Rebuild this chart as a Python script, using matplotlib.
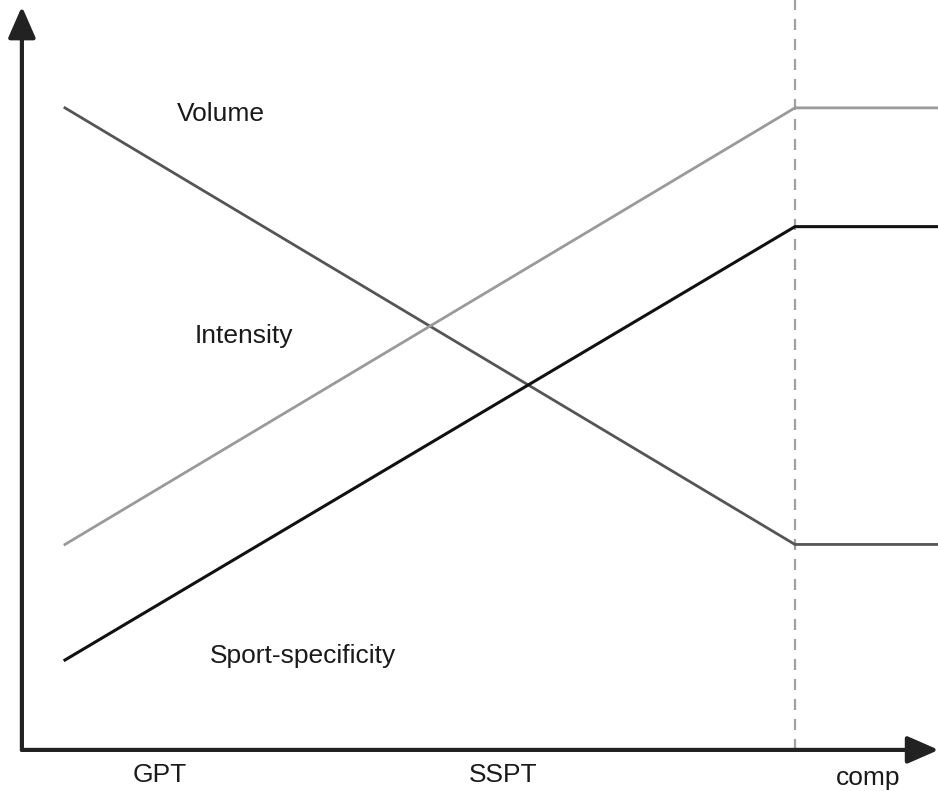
import matplotlib.pyplot as plt

# phase positions (arbitrary units): start of GPT, start of competition, end
PHASE_X = [0, 10, 12]
VOLUME = [10.0, 3.2, 3.2]
INTENSITY = [3.2, 10.0, 10.0]
SPORT_SPECIFICITY = [1.4, 8.15, 8.15]

SERIES_LABELS = ["Volume", "Intensity", "Sport-specificity"]
PHASE_LABELS = ["GPT", "SSPT", "comp"]

plt.rcParams["font.family"] = ["Liberation Sans", "DejaVu Sans"]

fig = plt.figure(figsize=(9.38, 7.91), dpi=100)
ax = fig.add_axes([0, 0, 1, 1])
ax.set_xlim(-0.89, 11.96)
ax.set_ylim(-0.64, 11.68)
ax.axis("off")

# axes with arrowheads
x0, y0 = -0.59, 0.0
axis_props = dict(arrowstyle="-|>,head_length=0.8,head_width=0.35", lw=3,
                  color="#222222", mutation_scale=24, shrinkA=0, shrinkB=0,
                  capstyle="butt")
ax.annotate("", xy=(11.97, y0), xytext=(x0 - 0.02, y0), arrowprops=axis_props,
            annotation_clip=False)
ax.annotate("", xy=(x0, 11.58), xytext=(x0, y0 - 0.02), arrowprops=axis_props,
            annotation_clip=False)

# competition divider
ax.plot([PHASE_X[1], PHASE_X[1]], [0, 11.7], color="#a0a0a0", lw=1.6,
        ls=(0, (5, 4)), zorder=1)

ax.plot(PHASE_X, VOLUME, color="#555555", lw=2, zorder=2)
ax.plot(PHASE_X, INTENSITY, color="#9a9a9a", lw=2, zorder=2)
ax.plot(PHASE_X, SPORT_SPECIFICITY, color="#111111", lw=2.2, zorder=3)

fs = 19
tc = "#1a1a1a"
ax.text(2.14, 9.9, SERIES_LABELS[0], fontsize=fs, color=tc, ha="center", va="center")
ax.text(2.45, 6.45, SERIES_LABELS[1], fontsize=fs, color=tc, ha="center", va="center")
ax.text(3.26, 1.47, SERIES_LABELS[2], fontsize=fs, color=tc, ha="center", va="center")

ax.text(1.3, -0.39, PHASE_LABELS[0], fontsize=fs, color=tc, ha="center", va="center")
ax.text(6.0, -0.39, PHASE_LABELS[1], fontsize=fs, color=tc, ha="center", va="center")
ax.text(11.0, -0.43, PHASE_LABELS[2], fontsize=fs, color=tc, ha="center", va="center")

fig.savefig("out.png", dpi=100)
